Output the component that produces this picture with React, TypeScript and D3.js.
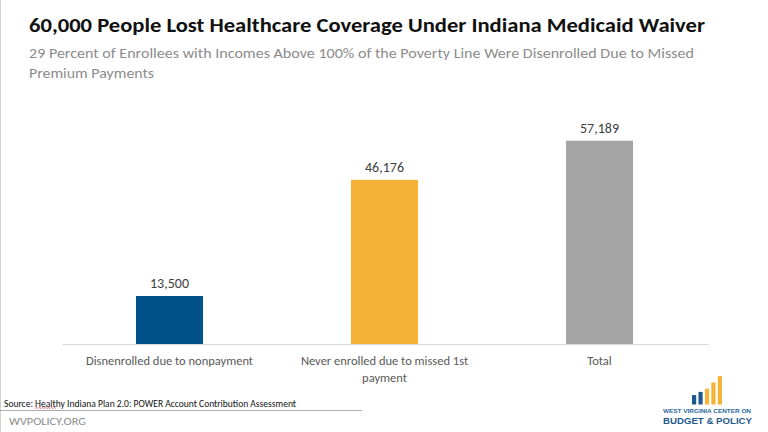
import React from "react";
import * as d3 from "d3";

const categories = ["Disnenrolled due to nonpayment", "Never enrolled due to missed 1st payment", "Total"];
const categoryLines = [["Disnenrolled due to nonpayment"], ["Never enrolled due to missed 1st", "payment"], ["Total"]];
const values = [13500, 46176, 57189];
const colors = ["#02528a", "#f4b236", "#a5a5a5"];
const logoBars = [3, 4, 5, 7, 9];
const logoColors = ["#1f5a8e", "#1f5a8e", "#f4b236", "#f4b236", "#f4b236"];

const W = 768, H = 432;
const FONT = "Carlito, Calibri, Lato, 'Open Sans', sans-serif";

export default function App() {
  const x = d3.scaleBand<string>().domain(categories).range([62, 707]).paddingInner(0.688).paddingOuter(0.344);
  const y = d3.scaleLinear().domain([0, 60000]).range([344, 130.7]);
  const fmt = d3.format(",");
  const lx = d3.scaleBand<number>().domain(logoBars.map((_, i) => i)).range([692, 722]).paddingInner(0.35);
  const ly = d3.scaleLinear().domain([0, 10]).range([404.5, 373]);

  return (
    <svg width={W} height={H} style={{ position: "absolute", left: 0, top: 0, background: "#fff" }} fontFamily={FONT}>
      <rect x={0} y={0} width={W} height={H} fill="#fff" />
      <line x1={0.5} y1={0} x2={0.5} y2={H} stroke="#d0d0d0" strokeWidth={1} />
      <text x={29} y={31.5} fontSize={19.5} fontWeight={700} fill="#111" textLength={676} lengthAdjust="spacingAndGlyphs">
        60,000 People Lost Healthcare Coverage Under Indiana Medicaid Waiver
      </text>
      <text x={29} y={58} fontSize={14} fill="#8c8c8c" textLength={665} lengthAdjust="spacingAndGlyphs">
        29 Percent of Enrollees with Incomes Above 100% of the Poverty Line Were Disenrolled Due to Missed
      </text>
      <text x={29} y={77.5} fontSize={14} fill="#8c8c8c" textLength={125} lengthAdjust="spacingAndGlyphs">
        Premium Payments
      </text>

      <line x1={62} x2={709} y1={344.5} y2={344.5} stroke="#d9d9d9" strokeWidth={1} />
      {categories.map((c, i) => (
        <g key={c}>
          <rect x={x(c)} y={y(values[i])} width={x.bandwidth()} height={y(0) - y(values[i])} fill={colors[i]} />
          <text x={(x(c) as number) + x.bandwidth() / 2} y={y(values[i]) - 8} textAnchor="middle" fontSize={14} fill="#404040">
            {fmt(values[i])}
          </text>
          {categoryLines[i].map((ln, j) => (
            <text key={j} x={(x(c) as number) + x.bandwidth() / 2} y={364.5 + j * 17} textAnchor="middle" fontSize={12.5} fill="#595959">
              {ln}
            </text>
          ))}
        </g>
      ))}

      <text x={4} y={406.5} fontSize={9.5} fill="#111" textLength={292} lengthAdjust="spacingAndGlyphs">
        Source: Healthy Indiana Plan 2.0: POWER Account Contribution Assessment
      </text>
      <path d="M35,408.5 l1.5,-1 l1.5,1 l1.5,-1 l1.5,1 l1.5,-1 l1.5,1 l1.5,-1 l1.5,1 l1.5,-1 l1.5,1 l1.5,-1 l1.5,1 l1.5,-1 l1.5,1" fill="none" stroke="#e03030" strokeWidth={0.6} />
      <line x1={0} x2={362} y1={410.5} y2={410.5} stroke="#999" strokeWidth={0.8} />
      <text x={9} y={425} fontSize={11} fill="#8a8a8a" textLength={77} lengthAdjust="spacingAndGlyphs">
        WVPOLICY.ORG
      </text>

      {logoBars.map((v, i) => (
        <rect key={i} x={lx(i)} y={ly(v)} width={lx.bandwidth()} height={ly(0) - ly(v)} fill={logoColors[i]} />
      ))}
      <text x={663} y={413} fontSize={6.2} fontWeight={700} fill="#2a6aa0" textLength={88} lengthAdjust="spacingAndGlyphs" fontFamily="'Liberation Sans', Arial, sans-serif">
        WEST VIRGINIA CENTER ON
      </text>
      <text x={663} y={423.5} fontSize={8.8} fontWeight={700} fill="#1f5a8e" textLength={89} lengthAdjust="spacingAndGlyphs" fontFamily="'Liberation Sans', Arial, sans-serif">
        BUDGET &amp; POLICY
      </text>
    </svg>
  );
}
